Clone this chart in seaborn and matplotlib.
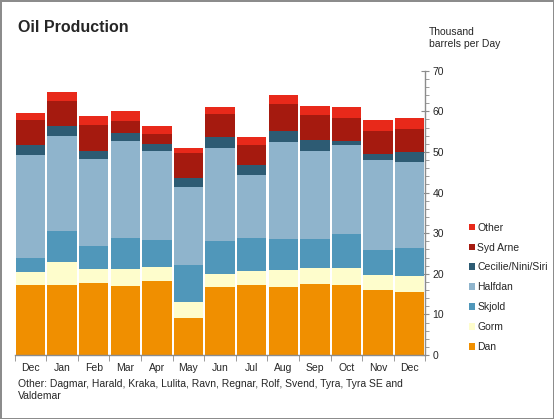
import numpy as np
import pandas as pd
import matplotlib
matplotlib.use("Agg")
import matplotlib.pyplot as plt
import seaborn as sns
from matplotlib.ticker import MultipleLocator, FixedLocator

months = ["Dec", "Jan", "Feb", "Mar", "Apr", "May", "Jun",
          "Jul", "Aug", "Sep", "Oct", "Nov", "Dec"]

# thousand barrels per day, per field group (bottom to top)
dan = [17.2, 17.2, 17.7, 17.0, 18.2, 9.1, 16.7, 17.2, 16.7, 17.5, 17.2, 16.0, 15.5]
gorm = [3.2, 5.7, 3.4, 4.1, 3.5, 3.9, 3.2, 3.5, 4.2, 3.9, 4.2, 3.7, 4.0]
skjold = [3.5, 7.6, 5.7, 7.7, 6.6, 9.2, 8.2, 8.1, 7.7, 7.2, 8.4, 6.2, 6.9]
halfdan = [25.4, 23.4, 21.5, 23.9, 21.9, 19.2, 22.9, 15.5, 23.9, 21.6, 21.9, 22.1, 21.1]
cecilie = [2.3, 2.5, 1.9, 2.0, 1.8, 2.2, 2.7, 2.5, 2.7, 2.8, 1.0, 1.5, 2.5]
syd_arne = [6.3, 6.2, 6.4, 2.9, 2.4, 6.2, 5.7, 4.9, 6.6, 6.1, 5.7, 5.7, 5.7]
other = [1.8, 2.2, 2.3, 2.5, 2.0, 1.2, 1.7, 2.0, 2.2, 2.2, 2.7, 2.7, 2.7]

series = ["Dan", "Gorm", "Skjold", "Halfdan", "Cecilie/Nini/Siri", "Syd Arne", "Other"]
colors = ["#F08F00", "#FEFDCC", "#5097BA", "#8FB4CC", "#2D5B73", "#A51A0F", "#E8291A"]

df = pd.DataFrame({"Dan": dan, "Gorm": gorm, "Skjold": skjold, "Halfdan": halfdan,
                   "Cecilie/Nini/Siri": cecilie, "Syd Arne": syd_arne, "Other": other})
df["pos"] = range(len(months))

sns.set_style("white")
plt.rcParams["font.family"] = ["Liberation Sans", "DejaVu Sans"]

fig = plt.figure(figsize=(5.54, 4.19), dpi=100, linewidth=1, edgecolor="#8c8c8c")
ax = fig.add_axes([0.0265, 0.1527, 0.7415, 0.6786])

bottom = np.zeros(len(months))
for name, col in zip(series, colors):
    sns.barplot(x="pos", y=name, data=df, color=col, bottom=bottom, width=0.93,
                saturation=1, linewidth=0, label=name, ax=ax, errorbar=None)
    bottom += df[name].values

ax.set_xlim(-0.5, len(months) - 0.5)
ax.set_ylim(0, 70)
ax.set_xlabel("")
ax.set_ylabel("")

ax.set_xticks(range(len(months)))
ax.set_xticklabels(months, fontsize=7.5)
ax.xaxis.set_minor_locator(FixedLocator(np.arange(-0.5, len(months), 1)))
ax.tick_params(axis="x", which="major", length=0, pad=6)
ax.tick_params(axis="x", which="minor", length=4, color="#8c8c8c", direction="out", bottom=True)

ax.yaxis.tick_right()
ax.yaxis.set_major_locator(MultipleLocator(10))
ax.yaxis.set_minor_locator(MultipleLocator(2))
ax.tick_params(axis="y", which="major", length=6, direction="inout", color="#8c8c8c",
               labelsize=7.5, pad=2, right=True, left=False)
ax.tick_params(axis="y", which="minor", length=3, direction="out", color="#8c8c8c", right=True, left=False)

for s in ["top", "left"]:
    ax.spines[s].set_visible(False)
for s in ["bottom", "right"]:
    ax.spines[s].set_color("#8c8c8c")
    ax.spines[s].set_linewidth(1)

handles, labels = ax.get_legend_handles_labels()
ax.legend(handles[::-1], labels[::-1], loc="lower left", frameon=False,
          bbox_to_anchor=(469 / 554, 67 / 419), bbox_transform=fig.transFigure,
          fontsize=7.5, handlelength=0.6, handleheight=0.6, handletextpad=0.2,
          labelspacing=0.95, borderpad=0, borderaxespad=0)

fig.text(18 / 554, 1 - 28 / 419, "Oil Production", fontsize=11.5, fontweight="bold", va="center")
fig.text(429 / 554, 1 - 38 / 419, "Thousand\nbarrels per Day", fontsize=7.5, va="center",
         linespacing=1.3)
fig.text(18 / 554, 1 - 390 / 419,
         "Other: Dagmar, Harald, Kraka, Lulita, Ravn, Regnar, Rolf, Svend, Tyra, Tyra SE and\nValdemar",
         fontsize=7.5, va="center", linespacing=1.25)

fig.savefig("out.png", dpi=100, edgecolor=fig.get_edgecolor())
